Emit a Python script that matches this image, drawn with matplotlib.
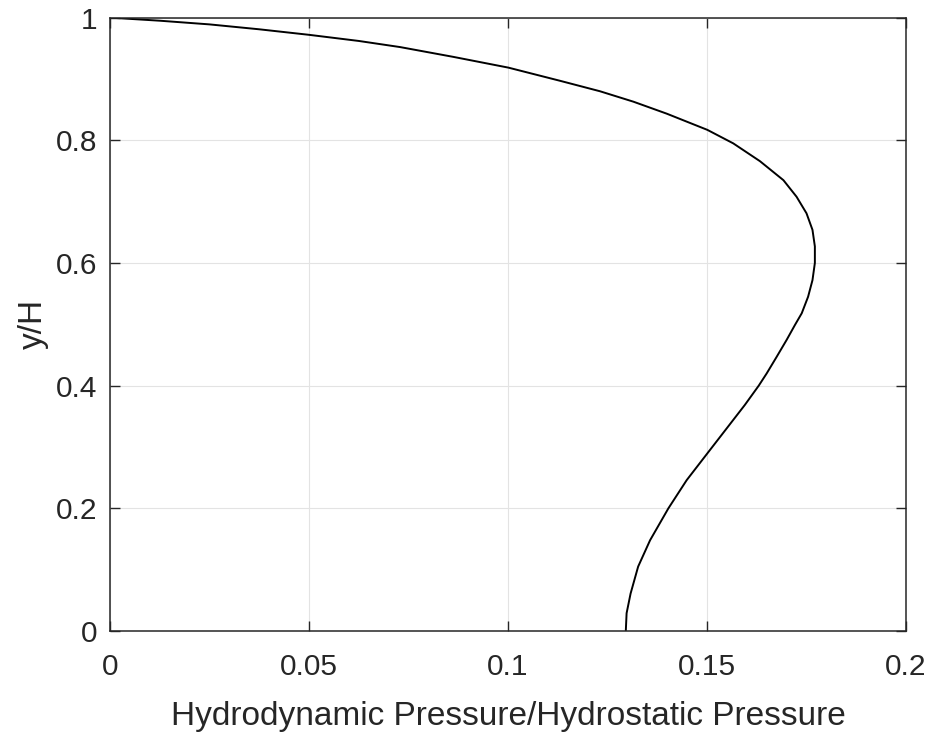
import matplotlib
matplotlib.use('Agg')
import matplotlib.pyplot as plt

# curve (pressure ratio vs y/H)
y_h = [1.0, 0.995, 0.989, 0.981, 0.972, 0.962, 0.952, 0.936, 0.9185, 0.897,
       0.880, 0.863, 0.8434, 0.817, 0.795, 0.766, 0.735, 0.708, 0.681, 0.654,
       0.627, 0.600, 0.572, 0.545, 0.518, 0.499, 0.4745, 0.447, 0.420, 0.400,
       0.3685, 0.2897, 0.246, 0.200, 0.148, 0.105, 0.061, 0.029, 0.0]
p_ratio = [0.0, 0.0125, 0.025, 0.0375, 0.05, 0.0625, 0.0729, 0.0863, 0.1001, 0.1131,
           0.1231, 0.1315, 0.1399, 0.1501, 0.1566, 0.1633, 0.1692, 0.1725, 0.1750, 0.1765,
           0.1771, 0.1771, 0.1765, 0.1754, 0.1738, 0.1721, 0.1700, 0.1675, 0.1650, 0.1630,
           0.1595, 0.1501, 0.1449, 0.1403, 0.1357, 0.1327, 0.1308, 0.1298, 0.1296]

x_ticks = [0, 0.05, 0.1, 0.15, 0.2]
x_labels = ['0', '0.05', '0.1', '0.15', '0.2']
y_ticks = [0, 0.2, 0.4, 0.6, 0.8, 1]
y_labels = ['0', '0.2', '0.4', '0.6', '0.8', '1']

plt.rcParams['font.family'] = ['Liberation Sans', 'DejaVu Sans']
dark = '#262626'

fig = plt.figure(figsize=(9.35, 7.35), dpi=100)
ax = fig.add_axes([0.1176, 0.1415, 0.8514, 0.8345])

ax.plot(p_ratio, y_h, color='black', linewidth=1.4)

ax.set_xlim(0, 0.2)
ax.set_ylim(0, 1)
ax.set_xticks(x_ticks)
ax.set_xticklabels(x_labels)
ax.set_yticks(y_ticks)
ax.set_yticklabels(y_labels)
ax.grid(True, color='#e3e3e3', linewidth=0.8)
ax.set_axisbelow(True)

ax.tick_params(direction='in', length=7, width=1, colors=dark, labelsize=21.5,
               top=True, right=True, pad=9)
ax.tick_params(axis='x', pad=16)
for s in ax.spines.values():
    s.set_color(dark)
    s.set_linewidth(1.1)

ax.set_xlabel('Hydrodynamic Pressure/Hydrostatic Pressure', fontsize=24, color=dark, labelpad=14)
ax.set_ylabel('y/H', fontsize=24, color=dark, labelpad=5)

fig.savefig('out.png', dpi=100)
